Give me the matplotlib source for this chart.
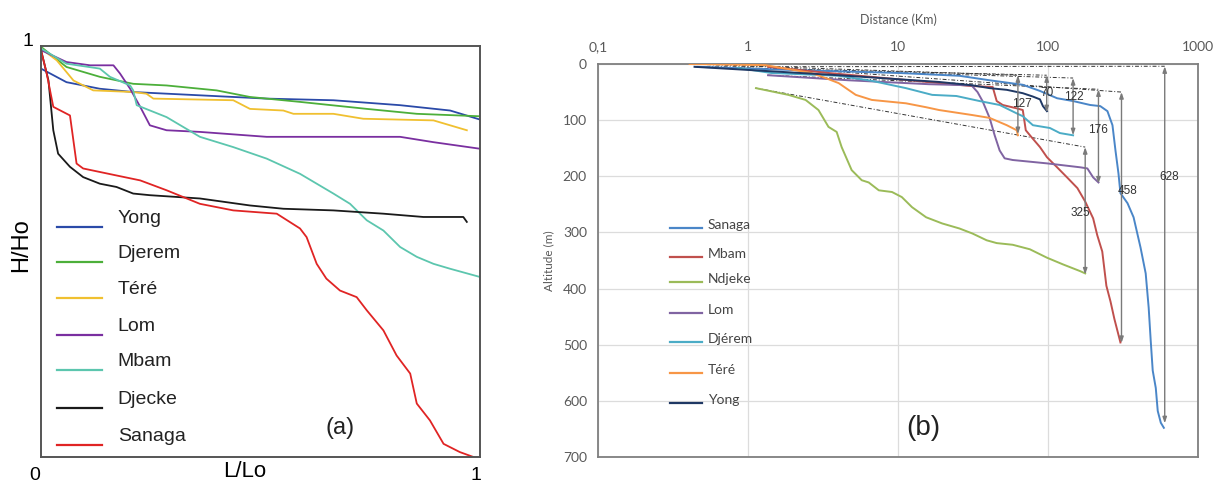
import matplotlib
matplotlib.use("Agg")
import matplotlib.pyplot as plt
import numpy as np

plt.rcParams['font.family'] = ['Liberation Sans', 'DejaVu Sans']

# ---- panel (a): dimensionless profiles, L/Lo vs H/Ho ----
a_names = ['Yong', 'Djerem', 'Téré', 'Lom', 'Mbam', 'Djecke', 'Sanaga']
a_colors = ['#2b4aa8', '#4caf3a', '#f0c030', '#7a2fa0', '#5cc6ae', '#1a1a1a', '#e02424']

yong_a_x = [0, .058, .134, .21, .362, .514, .666, .818, .932, 1.0]
yong_a_y = [.945, .912, .896, .888, .880, .872, .868, .856, .843, .821]
djerem_a_x = [0, .058, .134, .21, .286, .40, .476, .59, .742, .856, 1.0]
djerem_a_y = [.998, .949, .925, .908, .904, .892, .876, .864, .847, .835, .829]
tere_a_x = [0, .036, .074, .119, .21, .24, .256, .438, .476, .552, .575, .666, .734, .894, .97]
tere_a_y = [.994, .965, .916, .892, .888, .884, .872, .868, .847, .843, .835, .835, .823, .819, .795]
lom_a_x = [0, .058, .112, .165, .18, .203, .226, .248, .286, .362, .514, .666, .818, .894, 1.0]
lom_a_y = [.99, .961, .953, .953, .933, .896, .852, .807, .795, .791, .779, .779, .779, .766, .75]
mbam_a_x = [0, .058, .134, .157, .203, .21, .218, .286, .324, .362, .438, .514, .59, .666,
            .704, .742, .78, .818, .856, .894, .932, 1.0]
mbam_a_y = [.994, .957, .945, .925, .904, .892, .856, .827, .803, .779, .754, .726, .689, .641,
            .616, .576, .551, .511, .487, .47, .458, .438]
djecke_a_x = [0, .017, .028, .039, .066, .096, .134, .172, .21, .248, .362, .476, .552, .666,
              .78, .871, .962, .97]
djecke_a_y = [.99, .916, .795, .738, .706, .681, .665, .657, .641, .637, .629, .612, .604, .6,
              .592, .584, .584, .572]
sanaga_a_x = [0, .013, .028, .066, .081, .096, .172, .226, .286, .362, .438, .537, .59, .605,
              .628, .65, .681, .719, .742, .78, .81, .841, .856, .886, .917, .954, .985]
sanaga_a_y = [.99, .933, .852, .831, .714, .702, .685, .673, .649, .616, .6, .592, .556, .535,
              .47, .434, .405, .389, .357, .308, .247, .203, .13, .089, .032, .012, 0]
a_series = [(yong_a_x, yong_a_y), (djerem_a_x, djerem_a_y), (tere_a_x, tere_a_y),
            (lom_a_x, lom_a_y), (mbam_a_x, mbam_a_y), (djecke_a_x, djecke_a_y),
            (sanaga_a_x, sanaga_a_y)]

# ---- panel (b): longitudinal profiles, distance (km, log) vs altitude drop (m) ----
b_names = ['Sanaga', 'Mbam', 'Ndjeke', 'Lom', 'Djérem', 'Téré', 'Yong']
b_colors = ['#4a86c8', '#c0504d', '#9bbb59', '#8064a2', '#4bacc6', '#f79646', '#1f3864']

sanaga_d = [0.461, 2.17, 10.2, 25.7, 40.8, 67.9, 88.4, 115, 147, 191, 223, 249, 269, 282, 295,
            304, 339, 372, 414, 448, 469, 484, 499, 523, 539, 565, 592]
sanaga_h = [5, 11, 16, 21, 29, 37, 48, 61, 66, 73, 75, 84, 109, 155, 195, 230, 248, 273, 327,
            373, 434, 493, 546, 577, 618, 639, 648]
mbam_d = [1.36, 3.44, 11.9, 30.0, 42.8, 45.5, 49.9, 61.9, 67.9, 71.1, 76.9, 88.4, 98.4, 115,
          134, 157, 177, 200, 213, 230, 245, 261, 277, 304]
mbam_h = [5, 16, 29, 39, 41, 66, 73, 79, 82, 118, 129, 148, 166, 184, 202, 221, 245, 275, 305,
          334, 395, 423, 454, 496]
ndjeke_d = [1.13, 1.86, 2.42, 2.95, 3.44, 3.90, 4.21, 4.91, 5.73, 6.38, 7.45, 9.12, 10.6, 12.4,
            15.4, 19.7, 25.7, 31.4, 39.0, 45.5, 58.2, 75.7, 98.4, 126, 164, 177]
ndjeke_h = [43, 55, 64, 82, 112, 121, 148, 189, 207, 211, 225, 228, 237, 255, 273, 284, 293,
            302, 314, 319, 322, 330, 345, 357, 369, 373]
lom_d = [1.36, 4.69, 16.1, 30.9, 33.9, 36.6, 40.8, 44.1, 47.6, 51.4, 58.2, 98.4, 164, 183, 200, 217]
lom_h = [20, 29, 36, 38, 50, 66, 96, 127, 154, 168, 171, 177, 184, 186, 202, 211]
djerem_d = [0.857, 1.43, 4.02, 6.69, 11.3, 16.9, 24.5, 35.0, 47.6, 61.9, 67.9, 79.3, 103, 120, 147]
djerem_h = [7, 16, 21, 30, 43, 55, 57, 66, 73, 88, 93, 109, 114, 123, 127]
tere_d = [0.408, 1.30, 2.65, 3.29, 4.02, 5.23, 6.69, 11.3, 15.4, 18.8, 31.4, 40.8, 53.1, 61.9, 63]
tere_h = [0, 2, 16, 25, 34, 55, 64, 70, 77, 82, 91, 96, 109, 118, 127]
yong_d = [0.44, 4.02, 18.8, 31.4, 40.8, 53.1, 67.9, 79.3, 88.4, 92.5, 98.4]
yong_h = [5, 20, 32, 38, 43, 46, 52, 58, 63, 75, 84]
b_series = [(sanaga_d, sanaga_h), (mbam_d, mbam_h), (ndjeke_d, ndjeke_h), (lom_d, lom_h),
            (djerem_d, djerem_h), (tere_d, tere_h), (yong_d, yong_h)]

# drop arrows: river, position, top, bottom, label position
drop_river = ['Sanaga', 'Mbam', 'Ndjeke', 'Lom', 'Djérem', 'Téré', 'Yong']
drop_labels = ['628', '458', '325', '176', '122', '127', '70']
drop_x = [600, 309, 177, 217, 147, 63, 98]
drop_top = [4, 50, 148, 45, 25, 20, 20]
drop_bot = [640, 497, 375, 213, 127, 125, 86]
drop_lab_x = [638, 339, 164, 217, 149, 67, 99]
drop_lab_y = [202, 227, 266, 118, 59, 71, 52]

fig = plt.figure(figsize=(12.18, 4.86), dpi=100)

# ---------------- (a) ----------------
ax1 = fig.add_axes([41 / 1218, 29 / 486, 439 / 1218, 411 / 486])
for (x, y), c in zip(a_series, a_colors):
    ax1.plot(x, y, color=c, lw=1.3)
ax1.set_xlim(0, 1)
ax1.set_ylim(0, 1)
ax1.set_xticks([])
ax1.set_yticks([])
for s in ax1.spines.values():
    s.set_color('#555555')
    s.set_linewidth(1.4)

leg_y = [.560, .474, .387, .297, .212, .119, .029]
for name, c, y in zip(a_names, a_colors, leg_y):
    ax1.plot([.036, .139], [y, y], color=c, lw=1.6)
    ax1.text(.175, y + .02, name, fontsize=14, va='center', ha='left', color='#222222')

ax1.text(.681, .071, '(a)', fontsize=17, ha='center', va='center', color='#222222')
ax1.text(-0.03, 1.01, '1', fontsize=14, ha='center', va='center', transform=ax1.transAxes)
ax1.text(-0.014, -0.044, '0', fontsize=14, ha='center', va='center', transform=ax1.transAxes)
ax1.text(.991, -0.044, '1', fontsize=14, ha='center', va='center', transform=ax1.transAxes)
ax1.text(-0.045, .516, 'H/Ho', fontsize=17, rotation=90, ha='center', va='center',
         transform=ax1.transAxes)
fig.text(245 / 1218, 4 / 486, 'L/Lo', fontsize=16, ha='center', va='bottom')

# ---------------- (b) ----------------
ax2 = fig.add_axes([598 / 1218, 29 / 486, 600 / 1218, 393 / 486])
ax2.set_xscale('log')
ax2.set_xlim(0.1, 1000)
ax2.set_ylim(700, 0)
ax2.grid(True, which='major', color='#dcdcdc', lw=0.9)
ax2.set_axisbelow(True)

for (d, h), c in zip(b_series, b_colors):
    ax2.plot(d, h, color=c, lw=1.4, zorder=3)

# dashed reference lines from each source to the top of its drop arrow
for r, x, top in zip(drop_river, drop_x, drop_top):
    d, h = b_series[b_names.index(r)]
    ax2.plot([d[0], x], [h[0], top], color='#333333', lw=0.7, ls=(0, (4, 2, 1, 2)), zorder=2)

for lab, x, top, bot, lx, ly in zip(drop_labels, drop_x, drop_top, drop_bot, drop_lab_x, drop_lab_y):
    ax2.annotate('', xy=(x, bot), xytext=(x, top),
                 arrowprops=dict(arrowstyle='<|-|>,head_length=0.35,head_width=0.12',
                                 color='#7a7a7a', lw=1.0, shrinkA=0, shrinkB=0), zorder=4)
    ax2.text(lx, ly, lab, fontsize=8.5, ha='center', va='center', color='#333333', zorder=5)

ax2.xaxis.tick_top()
ax2.xaxis.set_label_position('top')
ax2.set_xticks([0.1, 1, 10, 100, 1000])
ax2.set_xticklabels(['0,1', '1', '10', '100', '1000'])
ax2.xaxis.set_minor_locator(matplotlib.ticker.NullLocator())
ax2.set_yticks(np.arange(0, 701, 100))
ax2.tick_params(length=0, labelsize=10, colors='#595959', pad=8)
ax2.set_xlabel('Distance (Km)', fontsize=9, color='#595959', labelpad=12)
ax2.set_ylabel('Altitude (m)', fontsize=8.5, color='#595959', labelpad=6)
for s in ax2.spines.values():
    s.set_color('#7f7f7f')
    s.set_linewidth(1.3)
for lbl in ax2.get_xticklabels() + ax2.get_yticklabels():
    lbl.set_family(['Lato', 'DejaVu Sans'])
ax2.xaxis.label.set_family(['Lato', 'DejaVu Sans'])
ax2.yaxis.label.set_family(['Lato', 'DejaVu Sans'])

legb_y = [.583, .509, .445, .366, .292, .214, .137]
for name, c, y in zip(b_names, b_colors, legb_y):
    ax2.plot([.12, .173], [y, y], color=c, lw=1.6, transform=ax2.transAxes)
    ax2.text(.183, y + .008, name, fontsize=10, va='center', ha='left', color='#444444',
             family=['Lato', 'DejaVu Sans'], transform=ax2.transAxes)

ax2.text(.542, .074, '(b)', fontsize=20, ha='center', va='center', color='#222222',
         transform=ax2.transAxes)

fig.savefig('out.png', dpi=100)
